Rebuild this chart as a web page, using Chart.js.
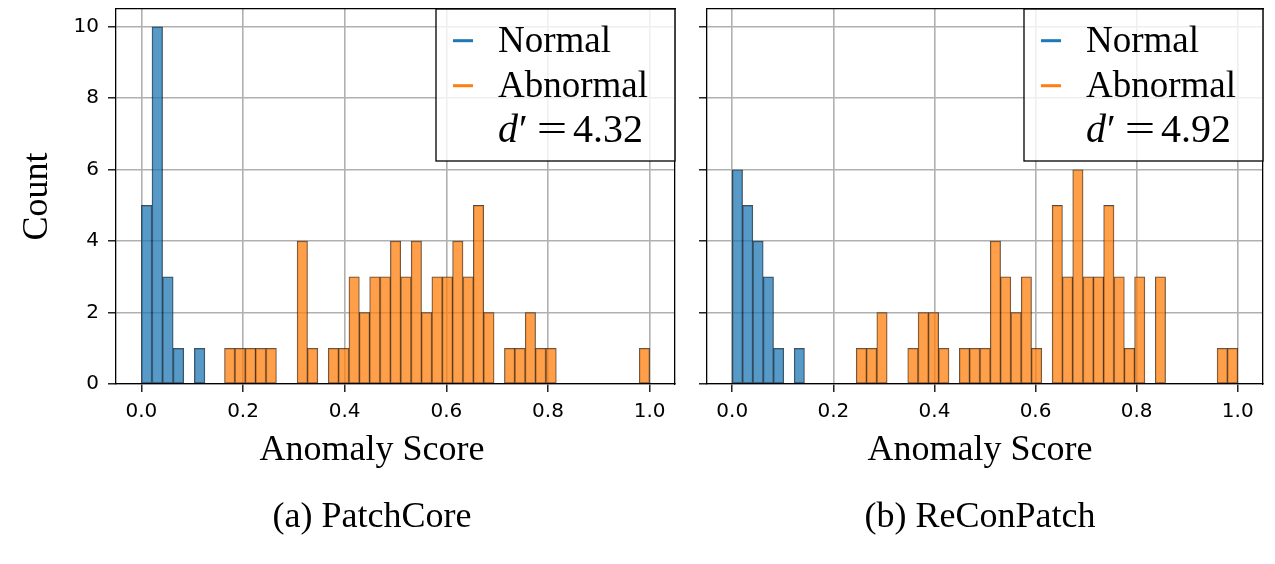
<!DOCTYPE html>
<html>
<head>
<meta charset="utf-8">
<script src="https://cdn.jsdelivr.net/npm/chart.js@4.4.0/dist/chart.umd.min.js"></script>
<style>
  html, body { margin: 0; padding: 0; background: #fff; }
  body { width: 1275px; height: 564px; position: relative; overflow: hidden; }
  canvas { position: absolute; top: 0; }
  #chartA { left: 0; }
  #chartB { left: 695px; }
</style>
</head>
<body>
<canvas id="chartA" width="744" height="564"></canvas>
<canvas id="chartB" width="570" height="564"></canvas>
<script>
// tick labels and axis text
const xTicks = [0, 0.2, 0.4, 0.6, 0.8, 1.0];
const yTicks = [0, 2, 4, 6, 8, 10];
const seriesNames = ["Normal", "Abnormal"];
const xTitle = "Anomaly Score";
const yTitle = "Count";

// (a) PatchCore histogram: bin range [lo, hi] and counts per bin
const patchNormalRange = [0.0, 0.125];
const patchNormalCounts = [5, 10, 3, 1, 0, 1];
const patchAbnormalRange = [0.1636, 1.0];
const patchAbnormalCounts = [1, 1, 1, 1, 1, 0, 0, 4, 1, 0,
                             1, 1, 3, 2, 3, 3, 4, 3, 4, 2,
                             3, 3, 4, 3, 5, 2, 0, 1, 1, 2,
                             1, 1, 0, 0, 0, 0, 0, 0, 0, 0, 1];
const patchDPrime = "4.32";

// (b) ReConPatch histogram
const reconNormalRange = [0.0, 0.1428];
const reconNormalCounts = [6, 5, 4, 3, 1, 0, 1];
const reconAbnormalRange = [0.2452, 1.0];
const reconAbnormalCounts = [1, 1, 2, 0, 0, 1, 2, 2, 1, 0,
                             1, 1, 1, 4, 3, 2, 3, 1, 0, 5,
                             3, 6, 3, 3, 5, 3, 1, 3, 0, 3,
                             0, 0, 0, 0, 0, 1, 1];
const reconDPrime = "4.92";

const serif = "'Liberation Serif', 'Times New Roman', serif";
const sans = "'DejaVu Sans', sans-serif";
const blue = "#1f77b4";
const orange = "#ff7f0e";

// bin centres from the bin range
function histPoints(range, counts) {
  const w = (range[1] - range[0]) / counts.length;
  return counts.map((c, i) => ({ x: range[0] + (i + 0.5) * w, y: c }));
}

function fixSize(prop, value) {
  return function (s) {
    s[prop] = value;
    s.paddingLeft = s.paddingRight = s.paddingTop = s.paddingBottom = 0;
  };
}

// boxed legend in the upper right, like matplotlib's
const dLegend = {
  id: "dLegend",
  afterDraw(chart, args, opts) {
    const ctx = chart.ctx;
    const area = chart.chartArea;
    const w = 239, h = 152;
    const left = area.right - w, top = area.top;
    ctx.save();
    ctx.fillStyle = "rgba(255,255,255,0.8)";
    ctx.fillRect(left, top, w, h);
    ctx.strokeStyle = "#000";
    ctx.lineWidth = 1.3;
    ctx.strokeRect(left, top, w, h);
    ctx.textBaseline = "alphabetic";
    ctx.textAlign = "left";
    const rows = [42.7, 87.7, 132.7];
    chart.data.datasets.forEach((ds, i) => {
      ctx.fillStyle = ds.handleColor;
      ctx.fillRect(left + 17, top + rows[i] - 12.5, 20, 3);
      ctx.fillStyle = "#000";
      ctx.font = "37px " + serif;
      ctx.fillText(ds.label, left + 62, top + rows[i]);
    });
    // d' = value
    const x0 = left + 62;
    const y = top + rows[2];
    ctx.fillStyle = "#000";
    ctx.font = "italic 40px " + serif;
    ctx.fillText("d", x0, y);
    ctx.font = "40px " + serif;
    ctx.fillText("\u2032", x0 + 21, y);
    ctx.textAlign = "center";
    ctx.save();
    ctx.translate(x0 + 54, 0);
    ctx.scale(1.35, 1);
    ctx.fillText("=", 0, y);
    ctx.restore();
    ctx.textAlign = "left";
    ctx.fillText(opts.value, x0 + 75, y);
    ctx.restore();
  }
};

function makeChart(id, cfg) {
  const gridOpts = { color: "#b0b0b0", lineWidth: 1.6, tickColor: "#000", tickWidth: 1.3, tickLength: 8, offset: false };
  const spine = { color: "#000", width: 1.3 };
  const barStyle = {
    borderColor: "rgba(0,0,0,0.7)",
    borderWidth: 0.8,
    borderSkipped: false,
    categoryPercentage: 1,
    barPercentage: 1,
    grouped: false,
  };
  return new Chart(document.getElementById(id), {
    type: "bar",
    data: {
      datasets: [
        Object.assign({
          label: seriesNames[0],
          data: histPoints(cfg.normalRange, cfg.normalCounts),
          xAxisID: "x",
          handleColor: blue,
          backgroundColor: "rgba(31,119,180,0.75)",
        }, barStyle),
        Object.assign({
          label: seriesNames[1],
          data: histPoints(cfg.abnormalRange, cfg.abnormalCounts),
          xAxisID: "xTop",
          handleColor: orange,
          backgroundColor: "rgba(255,127,14,0.75)",
        }, barStyle),
      ],
    },
    options: {
      responsive: false,
      animation: false,
      layout: { padding: { top: 9, left: 0, right: 0, bottom: 0 }, autoPadding: false },
      plugins: {
        legend: { display: false },
        tooltip: { enabled: false },
        title: {
          display: true,
          position: "bottom",
          text: cfg.caption,
          color: "#000",
          font: { family: serif, size: 36, weight: "normal", lineHeight: 1.2 },
          padding: { top: 0, bottom: 24.5 },
        },
        subtitle: {
          display: true,
          position: "bottom",
          text: xTitle,
          color: "#000",
          font: { family: serif, size: 36, weight: "normal", lineHeight: 1.2 },
          padding: { top: 0, bottom: 24.2 },
        },
        dLegend: { value: cfg.dPrime },
      },
      scales: {
        x: {
          type: "linear",
          position: "bottom",
          min: -0.05,
          max: 1.05,
          offset: false,
          z: 1,
          afterBuildTicks: (s) => { s.ticks = xTicks.map((v) => ({ value: v })); },
          afterFit: fixSize("height", 44.9),
          grid: gridOpts,
          border: spine,
          ticks: {
            color: "#000",
            font: { family: sans, size: 20 },
            padding: 8,
            maxRotation: 0,
            autoSkip: false,
            callback: (v) => Number(v).toFixed(1),
          },
        },
        xTop: {
          type: "linear",
          position: "top",
          min: -0.05,
          max: 1.05,
          offset: false,
          z: 1,
          afterBuildTicks: (s) => { s.ticks = xTicks.map((v) => ({ value: v })); },
          afterFit: fixSize("height", 0),
          grid: { display: false, offset: false },
          ticks: { display: false },
          border: spine,
        },
        y: {
          type: "linear",
          position: "left",
          min: 0,
          max: 10.5,
          z: 1,
          afterBuildTicks: (s) => { s.ticks = yTicks.map((v) => ({ value: v })); },
          afterFit: fixSize("width", cfg.yWidth),
          grid: gridOpts,
          border: spine,
          title: {
            display: cfg.yLabels,
            text: yTitle,
            color: "#000",
            font: { family: serif, size: 36, weight: "normal", lineHeight: 1.2 },
            padding: { top: 16.4, bottom: 0 },
          },
          ticks: {
            display: cfg.yLabels,
            color: "#000",
            font: { family: sans, size: 20 },
            padding: 9,
            autoSkip: false,
          },
        },
        yRight: {
          type: "linear",
          position: "right",
          z: 1,
          afterFit: fixSize("width", cfg.rightWidth),
          grid: { display: false },
          ticks: { display: false },
          border: spine,
        },
      },
    },
    plugins: [dLegend],
  });
}

makeChart("chartA", {
  normalRange: patchNormalRange,
  normalCounts: patchNormalCounts,
  abnormalRange: patchAbnormalRange,
  abnormalCounts: patchAbnormalCounts,
  dPrime: patchDPrime,
  caption: "(a) PatchCore",
  yLabels: true,
  yWidth: 116,
  rightWidth: 69,
});

makeChart("chartB", {
  normalRange: reconNormalRange,
  normalCounts: reconNormalCounts,
  abnormalRange: reconAbnormalRange,
  abnormalCounts: reconAbnormalCounts,
  dPrime: reconDPrime,
  caption: "(b) ReConPatch",
  yLabels: false,
  yWidth: 12,
  rightWidth: 2,
});
</script>
</body>
</html>
